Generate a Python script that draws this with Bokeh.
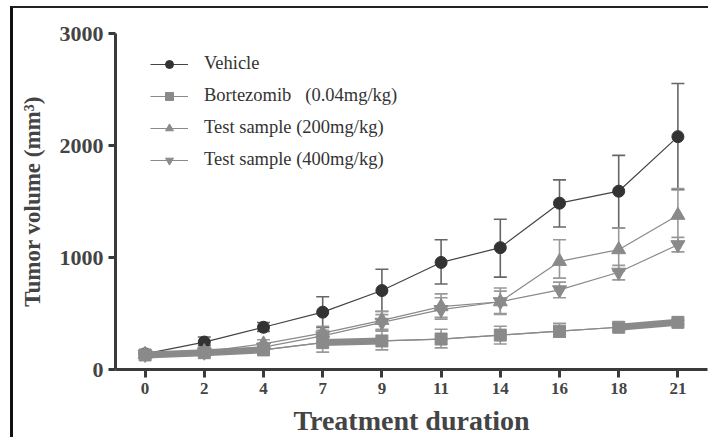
from bokeh.plotting import figure
from bokeh.models import FactorRange, Range1d, Legend, LegendItem, Whisker, ColumnDataSource, TeeHead
from bokeh.embed import file_html
from bokeh.resources import INLINE

days = ["0", "2", "4", "7", "9", "11", "14", "16", "18", "21"]

vehicle = [140, 245, 377, 512, 705, 956, 1088, 1485, 1592, 2079]
vehicle_hi = [150, 290, 420, 650, 895, 1158, 1342, 1693, 1912, 2553]
vehicle_lo = [130, 215, 340, 375, 518, 763, 825, 1272, 1263, 1605]

bort = [130, 150, 175, 240, 255, 272, 307, 342, 377, 421]
bort_hi = [145, 170, 200, 300, 342, 360, 386, 412, 405, 440]
bort_lo = [115, 130, 150, 155, 175, 193, 228, 289, 350, 402]

t200 = [135, 160, 228, 325, 439, 561, 605, 965, 1070, 1377]
t200_hi = [150, 185, 265, 385, 520, 675, 728, 1158, 1263, 1615]
t200_lo = [120, 140, 190, 265, 360, 450, 491, 816, 880, 1140]

t400 = [135, 155, 200, 300, 421, 535, 605, 711, 868, 1114]
t400_hi = [150, 175, 235, 350, 490, 640, 700, 780, 930, 1180]
t400_lo = [120, 135, 170, 250, 350, 465, 500, 640, 800, 1050]

# per-segment line widths of the Bortezomib curve (style)
bort_seg_w = [7, 7, 1.2, 7, 1.2, 1.2, 1.2, 1.2, 7]

FONT = "Liberation Serif"
DARK = "#333333"
GRAY = "#8a8a8a"

p = figure(width=698, height=431, x_range=FactorRange(factors=days, range_padding=0),
           y_range=Range1d(0, 3000), output_backend="svg", toolbar_location=None,
           min_border_left=102, min_border_right=4, min_border_top=25, min_border_bottom=70)
p.styles = {"border-left": "3px solid #111111", "border-top": "2px solid #222222",
            "margin-left": "10px", "margin-top": "6px"}
p.outline_line_color = None
p.grid.grid_line_color = None
p.background_fill_color = "white"

def whisk(vals_lo, vals_hi, color):
    src = ColumnDataSource(dict(x=days, lo=vals_lo, hi=vals_hi))
    w = Whisker(base="x", lower="lo", upper="hi", source=src, line_color=color, line_width=1.6,
                upper_head=TeeHead(size=13, line_color=color, line_width=1.6),
                lower_head=TeeHead(size=13, line_color=color, line_width=1.6))
    p.add_layout(w)

whisk(vehicle_lo, vehicle_hi, "#666666")
whisk(t400_lo, t400_hi, "#999999")
whisk(t200_lo, t200_hi, "#999999")
whisk(bort_lo, bort_hi, "#999999")

l_v = p.line(days, vehicle, line_color="#444444", line_width=1.2)
s_v = p.scatter(days, vehicle, marker="circle", size=12, fill_color=DARK, line_color=DARK)

l_t4 = p.line(days, t400, line_color=GRAY, line_width=1.2)
s_t4 = p.scatter(days, t400, marker="inverted_triangle", size=14, fill_color=GRAY, line_color=GRAY)
l_t2 = p.line(days, t200, line_color=GRAY, line_width=1.2)
s_t2 = p.scatter(days, t200, marker="triangle", size=14, fill_color=GRAY, line_color=GRAY)

seg = p.segment(x0=days[:-1], y0=bort[:-1], x1=days[1:], y1=bort[1:], line_color=GRAY,
                line_width=bort_seg_w)
l_b = p.line(days, bort, line_color=GRAY, line_width=1.2)
s_b = p.scatter(days, bort, marker="square", size=12, fill_color=GRAY, line_color=GRAY)

legend = Legend(items=[
    LegendItem(label="Vehicle", renderers=[l_v, s_v]),
    LegendItem(label="Bortezomib   (0.04mg/kg)", renderers=[l_b, s_b]),
    LegendItem(label="Test sample (200mg/kg)", renderers=[l_t2, s_t2]),
    LegendItem(label="Test sample (400mg/kg)", renderers=[l_t4, s_t4]),
], location=(35, 199), padding=0, margin=0, spacing=11, glyph_width=38, glyph_height=20,
    label_height=20, label_standoff=16, border_line_color=None, background_fill_alpha=0,
    label_text_font=FONT, label_text_font_size="18.5px", label_text_color=DARK)
p.add_layout(legend)

for ax in (p.xaxis[0], p.yaxis[0]):
    ax.axis_line_width = 3
    ax.axis_line_color = "#3a3a3a"
    ax.major_tick_line_width = 3
    ax.major_tick_line_color = "#3a3a3a"
    ax.minor_tick_line_color = None
    ax.major_label_text_font = FONT
    ax.major_label_text_font_style = "bold"
    ax.major_label_text_color = "#444444"
    ax.axis_label_text_font = FONT
    ax.axis_label_text_font_style = "bold"
    ax.axis_label_text_color = "#444444"

p.yaxis.ticker = [0, 1000, 2000, 3000]
p.yaxis.major_tick_out = 7
p.yaxis.major_tick_in = 0
p.yaxis.major_label_text_font_size = "22px"
p.yaxis.major_label_standoff = 5
p.yaxis.axis_label = "Tumor volume (mm³)"
p.yaxis.axis_label_text_font_size = "23px"
p.yaxis.axis_label_standoff = 12

p.xaxis.major_tick_out = 8
p.xaxis.major_tick_in = 0
p.xaxis.major_label_text_font_size = "17px"
p.xaxis.major_label_standoff = 5
p.xaxis.axis_label = "Treatment duration"
p.xaxis.axis_label_text_font_size = "28px"
p.xaxis.axis_label_standoff = 8

open("out.html", "w").write(file_html(p, INLINE))
